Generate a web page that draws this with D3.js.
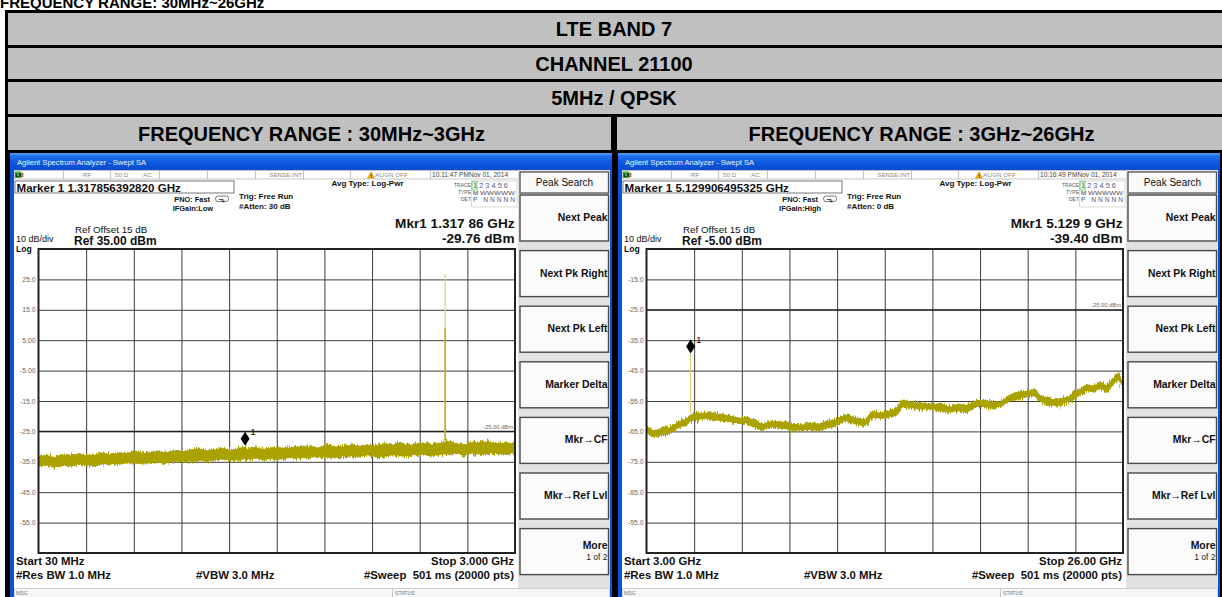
<!DOCTYPE html>
<html><head><meta charset="utf-8">
<script src="https://cdn.jsdelivr.net/npm/d3@7"></script>
<style>
html,body{margin:0;padding:0;background:#fff;overflow:hidden;}
svg{display:block;font-family:"Liberation Sans",Arial,sans-serif;}
</style></head><body>
<svg id="c" width="1222" height="597"></svg>
<script>
// ---------------- DATA ----------------
const pageTitle = "FREQUENCY RANGE: 30MHz~26GHz";
const headerRows = ["LTE BAND 7", "CHANNEL 21100", "5MHz / QPSK"];
const rangeTitles = ["FREQUENCY RANGE : 30MHz~3GHz", "FREQUENCY RANGE : 3GHz~26GHz"];

const softkeyHeader = "Peak Search";
const softkeys = ["Next Peak", "Next Pk Right", "Next Pk Left", "Marker Delta", "Mkr\u2192CF", "Mkr\u2192Ref Lvl"];

const leftTicks = [25, 15, 5, -5, -15, -25, -35, -45, -55];
const leftTickLabels = ["25.0", "15.0", "5.00", "-5.00", "-15.0", "-25.0", "-35.0", "-45.0", "-55.0"];
const rightTicks = [-15, -25, -35, -45, -55, -65, -75, -85, -95];
const rightTickLabels = ["-15.0", "-25.0", "-35.0", "-45.0", "-55.0", "-65.0", "-75.0", "-85.0", "-95.0"];

// Left screen trace (GHz, dBm): noise band upper / lower envelopes
const leftFreq = [0.03,0.08,0.13,0.18,0.23,0.28,0.33,0.38,0.43,0.48,0.53,0.58,0.63,0.68,0.73,0.78,0.83,0.88,0.93,0.98,
  1.03,1.08,1.13,1.18,1.23,1.28,1.318,1.33,1.38,1.43,1.48,1.53,1.58,1.63,1.68,1.73,1.78,1.83,1.88,1.93,1.98,
  2.03,2.08,2.13,2.18,2.23,2.28,2.33,2.38,2.43,2.48,2.53,2.58,2.63,2.68,2.73,2.78,2.83,2.88,2.93,2.98,3.00];
const leftUpper = [-33.0,-32.5,-33.4,-32.6,-32.8,-32.0,-32.7,-32.5,-31.8,-32.5,-31.8,-32.1,-31.2,-31.9,-31.7,-31.3,-31.8,-31.1,-31.3,-30.9,
  -30.4,-31.1,-30.8,-30.3,-31.1,-30.4,-29.76,-30.7,-29.9,-30.7,-30.2,-30.2,-30.3,-29.8,-30.0,-29.9,-30.1,-29.2,-29.8,-29.8,-29.2,
  -29.7,-29.2,-29.6,-29.0,-29.2,-28.5,-29.4,-28.9,-28.6,-29.2,-28.7,-28.0,-28.7,-29.2,-28.4,-28.5,-28.3,-28.7,-28.5,-28.7,-28.7];
const leftLower = [-36.6,-36.3,-37.0,-36.4,-36.6,-36.0,-36.3,-36.7,-35.9,-35.9,-36.0,-35.6,-35.6,-35.8,-35.4,-35.5,-35.7,-35.0,-35.1,-35.0,
  -34.8,-35.0,-34.6,-34.3,-34.8,-34.7,-34.3,-34.4,-34.0,-34.3,-34.3,-34.5,-33.8,-34.0,-34.0,-33.6,-33.8,-33.6,-34.0,-33.3,-33.3,
  -33.6,-33.0,-33.6,-33.3,-32.9,-33.1,-33.3,-32.8,-32.6,-33.3,-32.8,-32.8,-32.4,-32.9,-32.5,-32.8,-32.4,-32.4,-32.9,-32.4,-32.8];
const leftSpikeFreq = [2.565];
const leftSpikePeak = [26.8];
const leftSpikeBright = [9.0];

// Right screen trace
const rightFreq = [3.00,3.35,3.74,4.10,4.56,4.90,5.20,5.50,5.83,6.15,6.49,7.00,7.46,7.80,8.10,8.35,8.58,9.00,9.39,9.70,
  10.03,10.50,11.00,11.40,11.80,12.20,12.60,13.10,13.55,13.89,14.30,14.70,15.00,15.34,15.70,16.14,16.50,16.85,17.25,17.65,
  18.05,18.46,18.80,19.10,19.60,20.06,20.55,21.03,21.35,21.66,22.00,22.32,22.65,22.96,23.30,23.59,23.90,24.25,24.60,24.89,
  25.21,25.50,25.76,26.00];
const rightUpper = [-63.2,-64.5,-63.9,-63.5,-61.5,-60.7,-59.0,-58.8,-58.8,-58.8,-59.1,-59.6,-60.4,-60.1,-60.7,-61.4,-62.5,-61.5,-61.5,-61.7,
  -62.6,-62.6,-62.1,-62.1,-61.3,-60.7,-59.3,-60.3,-60.9,-58.1,-58.7,-58.0,-57.5,-54.4,-55.2,-55.3,-55.6,-55.8,-55.8,-56.7,
  -55.8,-56.2,-55.0,-54.5,-54.9,-55.1,-52.6,-51.8,-51.4,-51.1,-52.9,-53.6,-54.4,-53.9,-53.7,-52.1,-50.9,-49.4,-49.9,-48.5,
  -49.6,-47.7,-45.4,-48.5];
const rightLower = [-65.7,-67.0,-66.4,-65.9,-64.0,-63.2,-61.6,-61.4,-61.0,-61.2,-61.7,-62.0,-62.6,-62.5,-63.5,-64.2,-64.9,-63.7,-63.9,-64.3,
  -65.0,-64.8,-64.7,-64.7,-64.0,-63.2,-61.5,-62.8,-63.3,-60.6,-61.0,-60.5,-60.1,-57.3,-57.3,-58.0,-57.7,-57.9,-58.8,-58.8,
  -58.5,-59.0,-57.6,-56.8,-57.6,-56.9,-55.2,-54.5,-53.7,-53.5,-55.2,-56.6,-56.7,-56.8,-55.5,-54.9,-53.2,-51.8,-52.4,-50.8,
  -52.6,-50.2,-48.0,-50.7];
const rightSpikeFreq = [5.13];
const rightSpikePeak = [-39.4];
const rightSpikeBright = [-39.4];

const screens = [
  { ox: 0, start: 0.03, stop: 3.0, ref: 35,
    ticks: leftTicks, tickLabels: leftTickLabels,
    freq: leftFreq, upper: leftUpper, lower: leftLower,
    spikeFreq: leftSpikeFreq, spikePeak: leftSpikePeak, spikeBright: leftSpikeBright,
    markerFreq: 1.317856, markerLevel: -29.76,
    markerText: "Marker 1 1.317856392820 GHz", ifgain: "IFGain:Low", atten: "#Atten: 30 dB",
    time: "10:11:47 PMNov 01, 2014", mkr1: "Mkr1 1.317 86 GHz", mkr2: "-29.76 dBm",
    refText: "Ref 35.00 dBm", startText: "Start 30 MHz", stopText: "Stop 3.000 GHz", displayLine: -25 },
  { ox: 608, start: 3.0, stop: 26.0, ref: -5,
    ticks: rightTicks, tickLabels: rightTickLabels,
    freq: rightFreq, upper: rightUpper, lower: rightLower,
    spikeFreq: rightSpikeFreq, spikePeak: rightSpikePeak, spikeBright: rightSpikeBright,
    markerFreq: 5.129906, markerLevel: -39.40,
    markerText: "Marker 1 5.129906495325 GHz", ifgain: "IFGain:High", atten: "#Atten: 0 dB",
    time: "10:16:49 PMNov 01, 2014", mkr1: "Mkr1 5.129 9 GHz", mkr2: "-39.40 dBm",
    refText: "Ref -5.00 dBm", startText: "Start 3.00 GHz", stopText: "Stop 26.00 GHz", displayLine: -25 }
];

// ---------------- DRAW ----------------
const svg = d3.select("#c");
const defs = svg.append("defs");
const tg = defs.append("linearGradient").attr("id", "tbar").attr("x1", 0).attr("y1", 0).attr("x2", 0).attr("y2", 1);
[[0, "#5aa0fa"], [0.18, "#2370ec"], [0.6, "#0b57df"], [1, "#0a4ccc"]].forEach(s =>
  tg.append("stop").attr("offset", s[0]).attr("stop-color", s[1]));
// fuzzy edge styling for the noise band (visual texture only)
const nf = defs.append("filter").attr("id", "fuzz").attr("x", "-2%").attr("y", "-60%").attr("width", "104%").attr("height", "220%");
nf.append("feTurbulence").attr("type", "fractalNoise").attr("baseFrequency", "0.85 0.06").attr("numOctaves", 2).attr("seed", 7).attr("result", "t");
nf.append("feDisplacementMap").attr("in", "SourceGraphic").attr("in2", "t").attr("scale", 8)
  .attr("xChannelSelector", "R").attr("yChannelSelector", "G");

// page title (cut off at top)
svg.append("text").attr("x", 0).attr("y", 7.5).attr("font-size", 15).attr("font-weight", "bold")
  .attr("fill", "#000").text(pageTitle);

// table
svg.append("rect").attr("x", 5).attr("y", 10).attr("width", 1222).attr("height", 587).attr("fill", "#000");
const rowTops = [13, 48, 82];
const rowHs = [32, 31, 32];
headerRows.forEach((t, i) => {
  svg.append("rect").attr("x", 8).attr("y", rowTops[i]).attr("width", 1214).attr("height", rowHs[i]).attr("fill", "#c0c0c0");
  svg.append("text").attr("x", 614).attr("y", rowTops[i] + rowHs[i] / 2 + 7).attr("text-anchor", "middle")
    .attr("font-size", 20).attr("font-weight", "bold").attr("fill", "#000").text(t);
});
const colX = [[8, 611], [617, 1222]];
rangeTitles.forEach((t, i) => {
  svg.append("rect").attr("x", colX[i][0]).attr("y", 117).attr("width", colX[i][1] - colX[i][0]).attr("height", 33).attr("fill", "#c0c0c0");
  svg.append("text").attr("x", (colX[i][0] + colX[i][1]) / 2 + 2).attr("y", 140.5).attr("text-anchor", "middle")
    .attr("font-size", 20).attr("font-weight", "bold").attr("fill", "#000").text(t);
});

function drawScreen(cfg) {
  const ox = cfg.ox;
  const g = svg.append("g");
  const PL = ox + 38.5, PR = ox + 515, PT = 249, PB = 553;

  // frame + title bar
  g.append("rect").attr("x", ox + 10).attr("y", 153).attr("width", 602).attr("height", 444).attr("fill", "#0b52da");
  g.append("rect").attr("x", ox + 10).attr("y", 153).attr("width", 602).attr("height", 17).attr("fill", "url(#tbar)");
  g.append("text").attr("x", ox + 17).attr("y", 165).attr("font-size", 7.6).attr("fill", "#eef4ff")
    .text("Agilent Spectrum Analyzer - Swept SA");
  g.append("rect").attr("x", ox + 14).attr("y", 170).attr("width", 596).attr("height", 427).attr("fill", "#ffffff");

  // status bar
  const cells = [14, 63, 110, 159, 207, 255, 303, 350, 430, 518];
  for (let i = 0; i < cells.length - 1; i++) {
    g.append("rect").attr("x", ox + cells[i] + 0.5).attr("y", 170.5).attr("width", cells[i + 1] - cells[i]).attr("height", 8.5)
      .attr("fill", "#fff").attr("stroke", "#b8b8b8").attr("stroke-width", 0.8);
  }
  g.append("rect").attr("x", ox + 15).attr("y", 171.5).attr("width", 6.5).attr("height", 6.5).attr("fill", "#3cb43c");
  g.append("text").attr("x", ox + 15.5).attr("y", 177).attr("font-size", 5).attr("font-weight", "bold").attr("fill", "#000").text("LXI");
  const st = (x, t, anchor) => g.append("text").attr("x", ox + x).attr("y", 177.3).attr("font-size", 6.2)
    .attr("fill", "#8a8a8a").attr("text-anchor", anchor || "start").text(t);
  st(83, "RF"); st(115, "50 \u03A9"); st(143, "AC"); st(302, "SENSE:INT", "end"); st(375, "ALIGN OFF");
  g.append("path").attr("d", `M${ox + 367.5},178 L${ox + 371},171.8 L${ox + 374.5},178 Z`).attr("fill", "#f2c200").attr("stroke", "#8a6d00").attr("stroke-width", 0.4);
  g.append("text").attr("x", ox + 370.2).attr("y", 177.6).attr("font-size", 5).attr("font-weight", "bold").attr("fill", "#000").text("!");
  g.append("text").attr("x", ox + 432).attr("y", 177.3).attr("font-size", 6.6).attr("fill", "#444").text(cfg.time);

  // marker readout box
  g.append("rect").attr("x", ox + 15).attr("y", 181).attr("width", 219).attr("height", 12)
    .attr("fill", "#fff").attr("stroke", "#555").attr("stroke-width", 0.8);
  g.append("text").attr("x", ox + 16.5).attr("y", 191.5).attr("font-size", 11.6).attr("font-weight", "bold").attr("fill", "#111").text(cfg.markerText);

  // settings text
  const bt = (x, y, t, size, weight, anchor, fill) => g.append("text").attr("x", ox + x).attr("y", y)
    .attr("font-size", size).attr("font-weight", weight || "normal").attr("text-anchor", anchor || "start")
    .attr("fill", fill || "#111").text(t);
  bt(210, 201.5, "PNO: Fast", 7.4, "bold", "end");
  bt(213, 210.5, cfg.ifgain, 7.4, "bold", "end");
  g.append("rect").attr("x", ox + 215.5).attr("y", 196).attr("width", 13).attr("height", 5.5).attr("rx", 2.5)
    .attr("fill", "none").attr("stroke", "#444").attr("stroke-width", 0.7);
  g.append("path").attr("d", `M${ox + 219},199.5 L${ox + 223},199.5 L${ox + 223},201.5 M${ox + 221.8},200.5 L${ox + 223},202.3 L${ox + 224.2},200.5`)
    .attr("fill", "none").attr("stroke", "#222").attr("stroke-width", 0.8);
  bt(239, 198.5, "Trig: Free Run", 8, "bold");
  bt(239, 209, cfg.atten, 8, "bold");
  bt(331.5, 186.3, "Avg Type: Log-Pwr", 8, "bold");

  // trace info block
  g.append("rect").attr("x", ox + 471.5).attr("y", 181).attr("width", 45.5).attr("height", 26)
    .attr("fill", "#fff").attr("stroke", "#d0d0d0").attr("stroke-width", 0.8);
  g.append("rect").attr("x", ox + 472).attr("y", 181.5).attr("width", 5).attr("height", 8.5)
    .attr("fill", "#eaf7ea").attr("stroke", "#59c059").attr("stroke-width", 0.7);
  bt(471, 186.5, "TRACE", 5, "normal", "end", "#555");
  bt(471, 194, "TYPE", 5, "normal", "end", "#555");
  bt(471, 201.2, "DET", 5, "normal", "end", "#555");
  bt(473, 187.8, "1 2 3 4 5 6", 7.4, "normal", "start", "#4a5a88");
  bt(473, 195, "M", 6.2, "normal", "start", "#333");
  bt(480, 195, "WWWWW", 5.8, "normal", "start", "#555").attr("textLength", 35).attr("lengthAdjust", "spacingAndGlyphs");
  bt(473, 202.2, "P NNNNN", 6.6, "normal", "start", "#4a5a88").attr("textLength", 42).attr("lengthAdjust", "spacing");

  // marker readout (big)
  bt(514.5, 228, cfg.mkr1, 13.6, "bold", "end");
  bt(514.5, 242.5, cfg.mkr2, 13.6, "bold", "end");
  bt(75, 233, "Ref Offset 15 dB", 9.8, "normal", "start", "#111");
  bt(74, 244.5, cfg.refText, 12, "bold", "start", "#111");
  bt(16, 242, "10 dB/div", 9, "normal");
  bt(16, 251.5, "Log", 8.6, "bold");

  // scales
  const x = d3.scaleLinear().domain([cfg.start, cfg.stop]).range([PL, PR]);
  const y = d3.scaleLinear().domain([cfg.ref - 100, cfg.ref]).range([PB, PT]);
  const div = d3.scaleLinear().domain([0, 10]).range([PL, PR]);

  g.append("rect").attr("x", PL).attr("y", PT).attr("width", PR - PL).attr("height", PB - PT).attr("fill", "#fff");

  // vertical grid
  g.append("g").attr("transform", `translate(0,${PB})`)
    .call(d3.axisBottom(div).tickValues(d3.range(1, 10)).tickSize(-(PB - PT)).tickFormat(""))
    .call(a => a.select(".domain").remove())
    .call(a => a.selectAll("line").attr("stroke", "#3c3c3c").attr("stroke-width", 1));
  // horizontal grid + labels
  g.append("g").attr("transform", `translate(${PL},0)`)
    .call(d3.axisLeft(y).tickValues(cfg.ticks).tickSize(-(PR - PL)).tickPadding(3)
      .tickFormat((d, i) => cfg.tickLabels[i]))
    .call(a => a.select(".domain").remove())
    .call(a => a.selectAll("line").attr("stroke", "#3c3c3c").attr("stroke-width", 1))
    .call(a => a.selectAll("text").attr("font-size", 6.8).attr("fill", "#666").attr("font-family", "Liberation Sans, Arial, sans-serif"));

  // display line
  g.append("line").attr("x1", PL).attr("x2", PR).attr("y1", y(cfg.displayLine)).attr("y2", y(cfg.displayLine))
    .attr("stroke", "#222").attr("stroke-width", 1.2);
  bt(513, y(cfg.displayLine) - 2.5, "-25.00 dBm", 5.8, "normal", "end", "#666");

  // trace band
  const pts = cfg.freq.map((f, i) => ({ f, u: cfg.upper[i], l: cfg.lower[i] }));
  const area = d3.area().x(d => x(d.f)).y0(d => y(d.l)).y1(d => y(d.u));
  const core = d3.area().x(d => x(d.f)).y0(d => y(d.l) - 0.6).y1(d => y(d.u) + 0.6);
  const clipId = "clip" + ox;
  defs.append("clipPath").attr("id", clipId).append("rect").attr("x", PL).attr("y", PT).attr("width", PR - PL).attr("height", PB - PT);
  const tr = g.append("g").attr("clip-path", `url(#${clipId})`);
  tr.append("path").datum(pts).attr("d", area).attr("fill", "#aaa300").attr("filter", "url(#fuzz)");
  tr.append("path").datum(pts).attr("d", core).attr("fill", "#a9a200").attr("opacity", 0.92);

  // spikes
  cfg.spikeFreq.forEach((f, i) => {
    const base = d3.least(pts, p => Math.abs(p.f - f));
    g.append("line").attr("x1", x(f)).attr("x2", x(f)).attr("y1", y(base.u)).attr("y2", y(cfg.spikePeak[i]))
      .attr("stroke", "#dcd67c").attr("stroke-width", 1.3);
    if (cfg.spikeBright[i] !== cfg.spikePeak[i]) {
      g.append("line").attr("x1", x(f)).attr("x2", x(f)).attr("y1", y(base.u)).attr("y2", y(cfg.spikeBright[i]))
        .attr("stroke", "#b8b020").attr("stroke-width", 1.6);
    }
  });

  // plot frame
  g.append("rect").attr("x", PL).attr("y", PT).attr("width", PR - PL).attr("height", PB - PT)
    .attr("fill", "none").attr("stroke", "#222").attr("stroke-width", 2);

  // marker diamond
  const mx = x(cfg.markerFreq), my = y(cfg.markerLevel);
  g.append("path").attr("d", `M${mx},${my} L${mx - 4.5},${my - 7} L${mx},${my - 14} L${mx + 4.5},${my - 7} Z`).attr("fill", "#000");
  g.append("text").attr("x", mx + 5.5).attr("y", my - 11).attr("font-size", 9).attr("fill", "#000").text("1");

  // bottom annotation
  bt(16, 565, cfg.startText, 11.4, "bold");
  bt(514, 565, cfg.stopText, 11.4, "bold", "end");
  bt(16, 578.5, "#Res BW 1.0 MHz", 11.4, "bold");
  bt(196, 578.5, "#VBW 3.0 MHz", 11.4, "bold");
  bt(514, 578.5, "#Sweep  501 ms (20000 pts)", 11.4, "bold", "end").attr("xml:space", "preserve").style("white-space", "pre");

  // softkey panel
  g.append("rect").attr("x", ox + 518).attr("y", 170).attr("width", 92).attr("height", 418).attr("fill", "#e2e2e2");
  const kx = ox + 520, kw = 88.5;
  g.append("rect").attr("x", kx).attr("y", 172).attr("width", kw).attr("height", 21)
    .attr("fill", "#fafafa").attr("stroke", "#555").attr("stroke-width", 1.3);
  bt(564.5, 186, softkeyHeader, 10, "normal", "middle", "#111");
  const keyTop = d3.scaleLinear().domain([0, 1]).range([195, 250.6]);
  softkeys.concat(["More"]).forEach((k, i) => {
    const ty = keyTop(i);
    g.append("rect").attr("x", kx).attr("y", ty).attr("width", kw).attr("height", 46)
      .attr("fill", "#fbfbfb").attr("stroke", "#4a4a4a").attr("stroke-width", 1.4);
    if (k === "More") {
      bt(607.5, ty + 20, "More", 10.4, "bold", "end");
      bt(607.5, ty + 31, "1 of 2", 8.5, "normal", "end", "#222");
    } else {
      bt(607.5, ty + 26, k, 10.4, "bold", "end");
    }
  });

  // message bar
  g.append("rect").attr("x", ox + 14.5).attr("y", 588.5).attr("width", 595).attr("height", 9)
    .attr("fill", "#f6f6f6").attr("stroke", "#c4c4c4").attr("stroke-width", 0.8);
  g.append("line").attr("x1", ox + 392.5).attr("x2", ox + 392.5).attr("y1", 588.5).attr("y2", 597).attr("stroke", "#c4c4c4");
  bt(16, 595, "MSG", 5.2, "normal", "start", "#777");
  bt(395, 595, "STATUS", 5.2, "normal", "start", "#777");
}
screens.forEach(drawScreen);
</script>
</body></html>
